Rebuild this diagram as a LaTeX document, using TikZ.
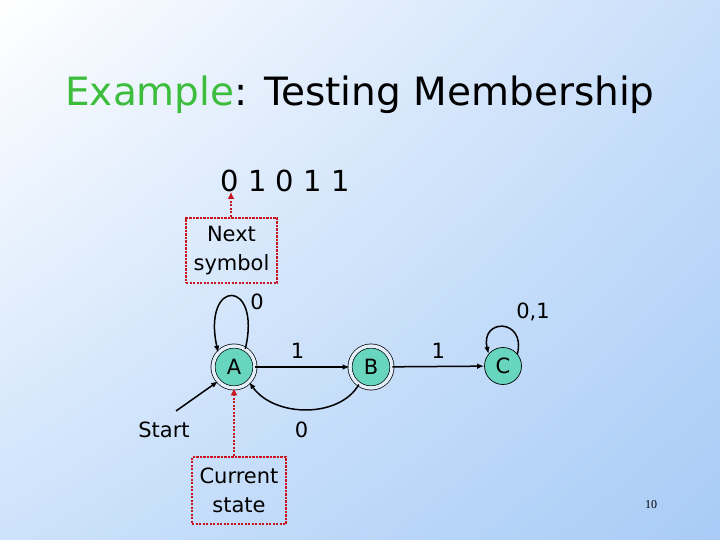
\documentclass[tikz,border=0pt]{standalone}
\usepackage{fontspec}
\setmainfont{DejaVu Sans}
\newfontfamily\pagenumfont{Liberation Serif}
\usetikzlibrary{arrows.meta,shadings,positioning}
\definecolor{titlegreen}{RGB}{60,190,60}
\definecolor{statefill}{RGB}{104,214,190}
\definecolor{boxred}{RGB}{200,20,30}
\definecolor{bgTL}{RGB}{255,255,255}
\definecolor{bgTR}{RGB}{200,222,250}
\definecolor{bgBL}{RGB}{205,226,251}
\definecolor{bgBR}{RGB}{168,204,246}
\definecolor{gapcol}{RGB}{228,239,252}
\tikzset{
  statenode/.style={circle, draw=black, line width=0.7pt, fill=statefill, minimum size=37pt, inner sep=0pt, font=\fontsize{21}{22}\selectfont},
  accept/.style={double=gapcol, double distance=3.4pt, minimum size=42pt},
  arr/.style={-{Latex[length=7pt,width=5.5pt]}, line width=1.5pt, black},
  lbl/.style={font=\fontsize{21}{22}\selectfont},
  redbox/.style={draw=boxred, line width=2.4pt, dash pattern=on 2.2pt off 1.3pt, align=center, inner sep=0pt, font=\fontsize{21}{29}\selectfont},
  redarr/.style={draw=boxred, line width=2.4pt, dash pattern=on 2.2pt off 1.3pt, -{Latex[length=7pt,width=7pt,fill=boxred]}},
}
\begin{document}
\begin{tikzpicture}[x=1pt,y=-1pt]
\useasboundingbox (0,0) rectangle (720,540);
\shade[upper left=bgTL, upper right=bgTR, lower left=bgBL, lower right=bgBR] (0,0) rectangle (720,540);
% title
\node[font=\fontsize{39}{44}\selectfont] (title) at (360,95) {\textcolor{titlegreen}{Example}: Testing Membership};
% input string
\node[font=\fontsize{29}{32}\selectfont] (str) at (285,181) {0 1 0 1 1};
\coordinate (tip) at (231,192);
% states
\node[statenode, accept] (A) at (234,367) {A};
\node[statenode, accept] (B) at (371,367) {B};
\node[statenode] (C) at (503,366) {C};
% transitions
\draw[arr] (A) -- node[lbl, above=4pt, xshift=-5pt] {1} (B);
\draw[arr] (B) -- node[lbl, above=4pt] {1} (C);
\draw[arr] (B.235) .. controls (340,418) and (275,418) .. node[lbl, below=9pt, xshift=-5pt] {0} (A.-45);
\draw[arr] (A.58) .. controls (262,278) and (202,278) .. node[lbl, midway, xshift=25pt, yshift=-6pt] {0} (A.138);
\draw[arr] (C.40) .. controls (526,318) and (480,318) .. node[lbl, midway, xshift=30pt, yshift=15pt] {0,1} (C.140);
% start
\node[lbl] (start) at (164,430) {Start};
\coordinate (s0) at (176,411);
\draw[arr] (s0) -- (A.222);
% next symbol
\node[redbox, minimum width=91pt, minimum height=65pt] (next) at (231.5,250.5) {Next\\symbol};
\draw[redarr] (next.north -| tip) -- (tip);
% current state
\node[redbox, minimum width=94pt, minimum height=67pt] (cur) at (239,490.5) {Current\\state};
\draw[redarr] (A.south |- cur.north) -- (A.south);
% page number
\node[font=\pagenumfont\fontsize{12}{14}\selectfont] (pg) at (651,505) {10};
\end{tikzpicture}
\end{document}
